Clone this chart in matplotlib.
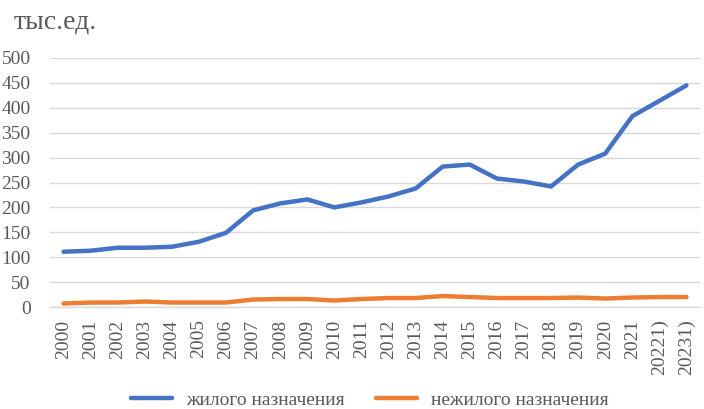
import matplotlib
matplotlib.use("Agg")
import matplotlib.pyplot as plt
from matplotlib.lines import Line2D

years = ["2000", "2001", "2002", "2003", "2004", "2005", "2006", "2007", "2008",
         "2009", "2010", "2011", "2012", "2013", "2014", "2015", "2016", "2017",
         "2018", "2019", "2020", "2021", "20221)", "20231)"]
residential = [111, 113, 119, 119, 121, 131, 149, 194, 208, 216, 200, 210, 222,
               238, 282, 286, 258, 252, 242, 286, 308, 383, 414, 445]
nonresidential = [7, 9, 9, 11, 9, 9, 9, 15, 16, 16, 13, 16, 18, 18, 22, 20, 18,
                  18, 18, 19, 17, 19, 20, 20]
yticks = [0, 50, 100, 150, 200, 250, 300, 350, 400, 450, 500]
series_names = ["жилого назначения", "нежилого назначения"]
unit_label = "тыс.ед."

plt.rcParams['font.family'] = ['Liberation Serif', 'DejaVu Serif']
text_color = "#595959"

fig = plt.figure(figsize=(7.04, 4.09), dpi=100)
ax = fig.add_axes([50/704, 1 - 307/409, 650/704, 249/409])

x = list(range(len(years)))
ax.plot(x, residential, color="#4472C4", lw=3.2, solid_capstyle="round", solid_joinstyle="round")
ax.plot(x, nonresidential, color="#ED7D31", lw=3.2, solid_capstyle="round", solid_joinstyle="round")

ax.set_xlim(-0.5, len(years) - 0.5)
ax.set_ylim(0, 500)
ax.set_yticks(yticks)
ax.set_yticklabels([str(v) for v in yticks], fontsize=14, color=text_color)
ax.set_xticks(x)
ax.set_xticklabels(years, rotation=90, fontsize=14, color=text_color, va="top")
ax.tick_params(axis="both", length=0)
ax.tick_params(axis="y", pad=14)
ax.tick_params(axis="x", pad=9)

ax.grid(axis="y", color="#d9d9d9", lw=1)
ax.set_axisbelow(True)
for s in ["top", "right", "left"]:
    ax.spines[s].set_visible(False)
ax.spines["bottom"].set_color("#d9d9d9")
ax.spines["bottom"].set_linewidth(1)

fig.text(14/704, 1 - 22/409, unit_label, fontsize=20, color=text_color, va="center", ha="left")

handles = [Line2D([], [], color="#4472C4", lw=3.2, solid_capstyle="round"),
           Line2D([], [], color="#ED7D31", lw=3.2, solid_capstyle="round")]
fig.legend(handles, series_names, loc="center", bbox_to_anchor=(370/704, 1 - 400/409),
           ncol=2, frameon=False, fontsize=14, labelcolor=text_color,
           handlelength=2.1, columnspacing=1.6, handletextpad=0.75)

fig.savefig("out.png", dpi=100)
